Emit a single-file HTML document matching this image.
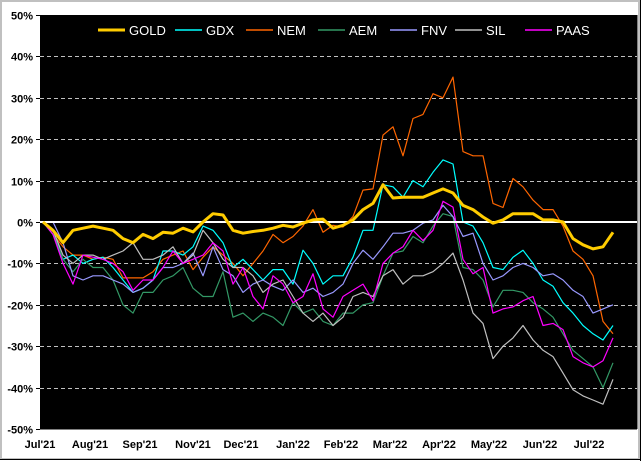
<!DOCTYPE html>
<html><head><meta charset="utf-8">
<style>
html,body{margin:0;padding:0;background:#fff;}
#wrap{position:relative;width:641px;height:461px;overflow:hidden;background:#fff;}
svg{position:absolute;left:0;top:0;}
text{font-family:"Liberation Sans",Arial,sans-serif;}
</style></head>
<body>
<div id="wrap">
<svg id="chart" width="641" height="461"></svg>
</div>
<script>
const seriesNames = ["GOLD","GDX","NEM","AEM","FNV","SIL","PAAS"];
const seriesColors = ["#ffcc00","#00ffff","#ff6600","#339966","#9999ff","#c0c0c0","#ff00ff"];
const goldVals = [0,-2,-5,-2,-1.5,-1,-1.5,-2,-4,-5,-3,-4,-2.5,-2.7,-1.5,-2.4,0,2,1.7,-2,
 -2.7,-2.3,-2,-1.5,-0.8,-1.2,-0.3,0.5,0.7,-1.5,-0.8,0.5,3,4.5,9,5.8,6,6,6,7,8,7,4,3,1.2,-0.3,0.5,2,2,2,0.5,0.5,0,-4,-5.5,-6.5,-6,-2.5];
const gdxVals = [0,-3,-9,-8,-10,-9,-8.5,-11,-14,-17,-16,-14,-7,-7,-8,-6,-1,-2,-5,-11,
 -9,-11.5,-14,-11.5,-11.5,-15,-6.8,-10,-15,-13,-13,-8.5,-2,-2,9,8.5,6,10,8.5,12,15,14,0,-1,-5,-11,-11.5,-8.5,-6.8,-10,-14,-15.5,-19.5,-22,-25,-27,-28.5,-25];
const nemVals = [0,-3,-6,-8,-8,-9,-8.5,-9,-13.5,-13.5,-13.5,-12,-9,-8,-7,-11.5,-8.5,-6,-8,-10,
 -13,-10,-7,-3,-5,-3.5,-1,3,-2.5,-0.8,-1.2,1.3,7.7,8,21,23,16,25,26,31,30,35,17,16,16,4.5,3.5,10.5,8.5,5.3,3,3,-1,-7,-9,-13,-24,-27];
const aemVals = [0,-2,-9,-12,-9,-11,-11,-14,-20,-22,-17,-17,-14,-13,-11,-16,-18,-18,-12,-23,
 -22,-24,-22,-23,-25,-19.5,-22,-21,-24,-25,-22,-22,-20,-19.5,-13,-7.5,-7,-3.5,-5,-1,2,1.3,-11,-11.5,-14,-20.5,-16.5,-16.5,-17,-19.5,-21,-23,-27,-31,-33,-35,-40,-34];
const fnvVals = [0,0,-5,-13,-14,-13,-13,-14,-15,-17,-16,-14,-11,-11,-10,-7.5,-13,-6,-11.5,-13,
 -17,-15,-14,-15.5,-16.5,-14,-17,-16,-18,-17,-15,-10,-6.8,-9,-6,-2.7,-2.7,-2,-0.3,0.5,4,1.3,-3.5,-2.7,-10,-14,-13,-11,-10,-11,-13,-12.5,-14,-16.5,-18,-22,-21,-20];
const silVals = [0,-2,-8,-10,-8,-8,-9,-8,-7,-5,-9,-9,-8,-6,-10,-8,-2,-5,-9,-11,
 -11,-13,-17,-15,-14,-18,-22,-24,-22,-25,-23,-18,-17,-18,-13,-11.5,-15,-13,-13,-12,-10,-7.5,-14,-22,-24.5,-33,-30,-28,-25,-28.5,-31,-32.5,-36.5,-40.5,-42,-43,-44,-38];
const paasVals = [0,-3,-10,-15,-8,-8.5,-9,-10,-12,-16.5,-14,-14,-11,-7,-10,-9,-8,-5,-7,-15,
 -11,-18,-21,-13,-15,-19.5,-18,-12.5,-21,-23,-18,-16.5,-15,-19,-10,-7.5,-6,-2,-4.5,-2,5,3.6,-9,-12.5,-11,-22,-21,-20.5,-19,-18,-25,-24.5,-26,-32.5,-34,-35,-33.5,-28];
const yTicks = [50,40,30,20,10,0,-10,-20,-30,-40,-50];
const xTickLabels = ["Jul'21","Aug'21","Sep'21","Nov'21","Dec'21","Jan'22","Feb'22","Mar'22","Apr'22","May'22","Jun'22","Jul'22"];
const xTickIdx = [-0.3,4.7,9.7,15,19.8,25,29.8,34.7,39.6,44.6,49.7,54.6];

const allVals = [goldVals,gdxVals,nemVals,aemVals,fnvVals,silVals,paasVals];
const PL=40, PR=637, PT=15, PB=429;
function yScale(v){ return PT + (50 - v) * (PB-PT) / 100; }
function xScale(i){ return 43 + i*10; }
const NS="http://www.w3.org/2000/svg";
const svg=document.getElementById('chart');
function mk(tag, attrs){ const e=document.createElementNS(NS,tag); for(const k in attrs) e.setAttribute(k,attrs[k]); svg.appendChild(e); return e; }

// outer frame
let f=mk('rect',{x:1,y:1,width:638,height:458,fill:'#fff',stroke:'#c0c0c0','stroke-width':2});


mk('line',{x1:0,y1:459.5,x2:641,y2:459.5,stroke:'#000','stroke-width':1});
mk('line',{x1:640.5,y1:0,x2:640.5,y2:461,stroke:'#000','stroke-width':1});
// plot area
let pa=mk('rect',{x:PL,y:PT,width:PR-PL,height:PB-PT,fill:'#000'});


mk('line',{x1:PL,y1:PB+0.5,x2:PR,y2:PB+0.5,stroke:'#808080','stroke-width':1});
mk('line',{x1:PR+0.5,y1:PT,x2:PR+0.5,y2:PB,stroke:'#808080','stroke-width':1});

// y grid + labels
yTicks.forEach(v=>{
  const y=Math.round(yScale(v))+0.5;
  if(v!==50 && v!==-50 && v!==0){
    const g=mk('line',{x1:PL,y1:y,x2:PR,y2:y,stroke:'#c0c0c0','stroke-width':1,'stroke-dasharray':'4,3'});
    
    
  }
  mk('line',{x1:PL-4,y1:y,x2:PL,y2:y,stroke:'#000','stroke-width':1});
  const t=mk('text',{x:PL-7,y:y+4,'text-anchor':'end','font-size':'11','font-weight':'bold',fill:'#000'});
  t.textContent=v+'%';
  
  
});
// x labels
xTickLabels.forEach((lab,k)=>{
  const t=mk('text',{x:xScale(xTickIdx[k]),y:448,'text-anchor':'middle','font-size':'11','font-weight':'bold',fill:'#000'});
  t.textContent=lab;
  
  
});
// series (thin first, gold last)
const order=[2,1,3,4,5,6,0];
order.forEach(s=>{
  const vals=allVals[s];
  const pts=vals.map((v,i)=>xScale(i).toFixed(1)+','+yScale(v).toFixed(1)).join(' ');
  const p=mk('polyline',{points:pts,fill:'none',stroke:seriesColors[s],'stroke-width':s===0?3:1.2,'stroke-linejoin':'round'});
  
  
  if(s===0){
    // zero line drawn before gold
    const z=mk('line',{x1:PL,y1:yScale(0),x2:PR,y2:yScale(0),stroke:'#fff','stroke-width':2});
    
    
    svg.appendChild(p);
  }
});
// legend
const legX=[98,175,246,318,390,455,525];
seriesNames.forEach((n,k)=>{
  const l=mk('line',{x1:legX[k],y1:30,x2:legX[k]+27,y2:30,stroke:seriesColors[k],'stroke-width':k===0?3:1.5});
  
  
  const t=mk('text',{x:legX[k]+31,y:35,'font-size':'13',fill:'#fff'});
  t.textContent=n;
  
  
});
</script>
</body></html>
